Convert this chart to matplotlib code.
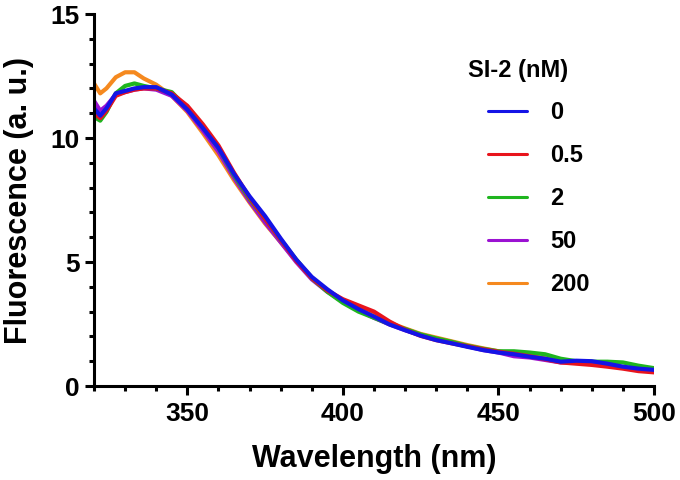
import matplotlib
matplotlib.use("Agg")
import matplotlib.pyplot as plt
import numpy as np
from matplotlib.ticker import MultipleLocator

plt.rcParams['font.family'] = ['Liberation Sans', 'DejaVu Sans']
plt.rcParams['font.weight'] = 'bold'

#=======================================================
wavelength = [320, 322, 324, 327, 330, 333, 336, 340, 345, 350, 355, 360, 365, 370,
              375, 380, 385, 390, 395, 400, 405, 410, 415, 420, 425, 430, 435, 440,
              445, 450, 455, 460, 465, 470, 475, 480, 485, 490, 495, 500]

f_0 = [11.2, 10.9, 11.2, 11.8, 11.9, 12.0, 12.05, 12.05, 11.75, 11.15, 10.4, 9.6, 8.55, 7.65,
       6.85, 5.95, 5.1, 4.4, 3.9, 3.45, 3.1, 2.8, 2.48, 2.25, 2.03, 1.85, 1.72, 1.58,
       1.45, 1.35, 1.28, 1.18, 1.1, 0.98, 1.02, 1.0, 0.9, 0.78, 0.7, 0.65]
f_05 = [11.0, 10.8, 11.1, 11.7, 11.85, 11.95, 12.0, 12.0, 11.8, 11.3, 10.55, 9.7, 8.6, 7.6,
        6.75, 5.9, 5.05, 4.35, 3.85, 3.5, 3.25, 3.0, 2.6, 2.27, 2.02, 1.85, 1.72, 1.6,
        1.48, 1.38, 1.3, 1.2, 1.08, 0.95, 0.9, 0.85, 0.78, 0.7, 0.6, 0.55]
f_2 = [10.85, 10.7, 11.05, 11.8, 12.1, 12.2, 12.1, 12.0, 11.85, 11.2, 10.45, 9.6, 8.5, 7.55,
       6.75, 5.9, 5.1, 4.35, 3.8, 3.35, 3.0, 2.75, 2.5, 2.3, 2.08, 1.92, 1.78, 1.62,
       1.5, 1.4, 1.4, 1.35, 1.28, 1.1, 1.0, 0.98, 0.98, 0.95, 0.82, 0.72]
f_50 = [11.5, 11.1, 11.3, 11.75, 11.85, 11.95, 12.0, 11.95, 11.7, 11.1, 10.3, 9.45, 8.4, 7.45,
        6.6, 5.8, 5.0, 4.3, 3.8, 3.4, 3.05, 2.75, 2.48, 2.25, 2.05, 1.88, 1.75, 1.6,
        1.45, 1.35, 1.2, 1.15, 1.05, 0.95, 0.95, 0.95, 0.88, 0.75, 0.68, 0.62]
f_200 = [12.2, 11.8, 12.0, 12.45, 12.65, 12.65, 12.4, 12.15, 11.7, 11.05, 10.2, 9.3, 8.3, 7.4,
         6.55, 5.8, 5.05, 4.35, 3.85, 3.45, 3.1, 2.85, 2.55, 2.32, 2.1, 1.95, 1.8, 1.65,
         1.52, 1.4, 1.3, 1.22, 1.12, 1.0, 0.95, 0.95, 0.85, 0.75, 0.68, 0.62]

labels = ['0', '0.5', '2', '50', '200']
colors = ['#1414e6', '#e8141c', '#1fb51f', '#9b12d2', '#f5891f']
series = [f_0, f_05, f_2, f_50, f_200]

#=======================================================
fig = plt.figure(figsize=(6.8, 4.8), dpi=100)
ax = fig.add_axes([94/680, 1-386/480, 560/680, 372/480])

lines = {}
for lab, col, ys in reversed(list(zip(labels, colors, series))):
    lines[lab], = ax.plot(wavelength, ys, color=col, lw=3.0, solid_capstyle='round')

ax.set_xlim(320, 500)
ax.set_ylim(0, 15)
ax.xaxis.set_major_locator(MultipleLocator(50))
ax.xaxis.set_minor_locator(MultipleLocator(10))
ax.yaxis.set_major_locator(MultipleLocator(5))
ax.yaxis.set_minor_locator(MultipleLocator(1))

for s in ['top', 'right']:
    ax.spines[s].set_visible(False)
for s in ['left', 'bottom']:
    ax.spines[s].set_linewidth(2.2)

ax.tick_params(which='major', length=6.5, width=2.2, labelsize=19)
ax.tick_params(which='minor', length=3.6, width=2.2)
ax.tick_params(axis='x', which='major', pad=5)
ax.tick_params(axis='y', which='major', pad=4)
for t in ax.get_xticklabels() + ax.get_yticklabels():
    t.set_fontweight('bold')

ax.set_xlabel('Wavelength (nm)', fontsize=22, fontweight='bold')
ax.set_ylabel('Fluorescence (a. u.)', fontsize=22, fontweight='bold')
ax.xaxis.set_label_coords(0.5, -0.155)
ax.yaxis.set_label_coords(-0.107, 0.5)

#=======================================================
# legend title drawn separately so it can sit left of the handles
fig.text(468/680, 1-70/480, 'SI-2 (nM)', fontsize=17, fontweight='bold',
         ha='left', va='center')
leg = ax.legend([lines[l] for l in labels], labels,
                loc='upper left', bbox_to_anchor=(488/680, 1-101/480),
                bbox_transform=fig.transFigure, frameon=False,
                fontsize=17, handlelength=1.65,
                handletextpad=1.0, labelspacing=0.85, borderpad=0,
                borderaxespad=0)
for t in leg.get_texts():
    t.set_fontweight('bold')
for h in leg.get_lines():
    h.set_linewidth(2.2)

fig.savefig('out.png', dpi=100)
